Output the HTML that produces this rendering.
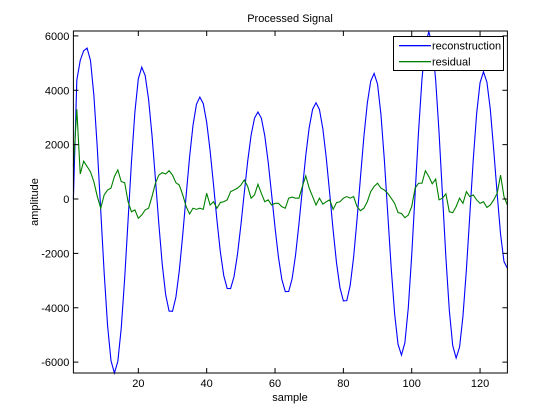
<!DOCTYPE html>
<html><head><meta charset="utf-8"><style>
body{margin:0;background:#fff;}
svg{display:block;font-family:"Liberation Sans",Arial,sans-serif;}
</style></head><body>
<svg id="chart" width="560" height="419" viewBox="0 0 560 419"></svg>
<script>
const samples = Array.from({length:128},(_,i)=>i+1);
const reconstruction = [0,4370,5100,5450,5550,5096,3799,1863,-425,-2713,-4649,-5946,-6400,-5972,-4752,-2929,-775,1379,3202,4422,4850,4542,3669,2343,741,-915,-2404,-3521,-4123,-4132,-3604,-2622,-1314,141,1548,2713,3480,3750,3509,2823,1783,527,-773,-1941,-2818,-3290,-3294,-2859,-2050,-972,226,1386,2345,2977,3200,2974,2331,1355,176,-1042,-2138,-2961,-3403,-3401,-2935,-2071,-919,362,1601,2627,3302,3540,3290,2581,1504,203,-1142,-2351,-3259,-3748,-3738,-3178,-2137,-750,793,2285,3520,4333,4620,4226,3102,1424,-560,-2544,-4222,-5346,-5740,-5288,-3998,-2072,205,2482,4408,5698,6150,5694,4392,2448,150,-2148,-4092,-5394,-5850,-5450,-4307,-2601,-585,1431,3137,4280,4680,4300,3300,1800,200,-1300,-2300,-2550];
const residual = [1200,3300,920,1390,1200,1000,630,90,-340,150,330,400,830,1070,640,600,-100,-470,-400,-710,-590,-400,-340,90,580,880,970,920,1040,880,600,510,150,-280,-550,-340,-380,-340,-380,210,-220,-100,-340,-130,-100,-30,270,330,400,510,700,460,30,150,540,210,-100,-30,-220,-160,-160,-280,-340,30,70,30,30,460,850,400,90,-220,30,-190,-100,-30,-380,-130,-100,30,90,30,90,-280,-430,-340,-100,270,460,580,400,330,210,30,-160,-500,-530,-690,-590,-280,400,580,580,1040,830,560,730,-30,30,190,-470,-500,-280,30,-160,270,90,150,-30,-160,-100,-310,-220,-30,210,880,90,-220];
const xTicks = [20,40,60,80,100,120];
const yTicks = [-6000,-4000,-2000,0,2000,4000,6000];
const xDomain = [1,128], yDomain = [-6400,6180];
const L=73.4,R=507.4,T=31,B=373;
const sx=v=>L+(v-xDomain[0])/(xDomain[1]-xDomain[0])*(R-L);
const sy=v=>B-(v-yDomain[0])/(yDomain[1]-yDomain[0])*(B-T);
const NS='http://www.w3.org/2000/svg';
const svg=document.getElementById('chart');
function mk(tag,attrs,parent){const e=document.createElementNS(NS,tag);for(const k in attrs)e.setAttribute(k,attrs[k]);(parent||svg).appendChild(e);return e;}
const bg=mk('rect',{x:L,y:T,width:R-L,height:B-T,fill:'#fff',stroke:'none'});


function series(vals,color,name){
  const d=vals.map((v,i)=>(i?'L':'M')+sx(samples[i]).toFixed(2)+' '+sy(v).toFixed(2)).join(' ');
  const p=mk('path',{d:d,fill:'none',stroke:color,'stroke-width':1.1});
  
  
}
series(reconstruction,'#0000ff','reconstruction-line');
series(residual,'#008000','residual-line');
const frame=mk('rect',{x:L,y:T,width:R-L,height:B-T,fill:'none',stroke:'#000','stroke-width':1});


xTicks.forEach(t=>{
  const x=sx(t);
  mk('line',{x1:x,x2:x,y1:B,y2:B-5,stroke:'#000'});
  mk('line',{x1:x,x2:x,y1:T,y2:T+5,stroke:'#000'});
  const tx=mk('text',{x:x,y:B+14,'font-size':11,'text-anchor':'middle'});
  tx.textContent=t;
  
  
});
yTicks.forEach(t=>{
  const y=sy(t);
  mk('line',{x1:L,x2:L+5,y1:y,y2:y,stroke:'#000'});
  mk('line',{x1:R,x2:R-5,y1:y,y2:y,stroke:'#000'});
  const tx=mk('text',{x:L-4,y:y+4,'font-size':11,'text-anchor':'end'});
  tx.textContent=t;
  
  
});
// legend
const lg=mk('g',{});


mk('rect',{x:393.5,y:36.5,width:110,height:34,fill:'#ffffff',stroke:'#000000'},lg);
const s1=mk('rect',{x:399,y:45,width:32,height:1.3,fill:'#0000ff',stroke:'none'},lg);
s1.style.fill='#0000ff';


const t1=mk('text',{x:432,y:49.5,'font-size':11},lg);
t1.textContent='reconstruction';


const s2=mk('rect',{x:399,y:61,width:32,height:1.3,fill:'#008000',stroke:'none'},lg);
s2.style.fill='#008000';


const t2=mk('text',{x:432,y:65.5,'font-size':11},lg);
t2.textContent='residual';


</script>
<div style="position:absolute;left:0;top:0;width:560px;height:419px;pointer-events:none">
<svg width="560" height="419" style="font-family:'Liberation Sans',Arial,sans-serif">
<text x="290" y="22" font-size="11" text-anchor="middle">Processed Signal</text>
<text x="290" y="401" font-size="11" text-anchor="middle">sample</text>
<text x="0" y="0" font-size="11" text-anchor="middle" transform="translate(38,202) rotate(-90)">amplitude</text>
</svg></div>
</body></html>
